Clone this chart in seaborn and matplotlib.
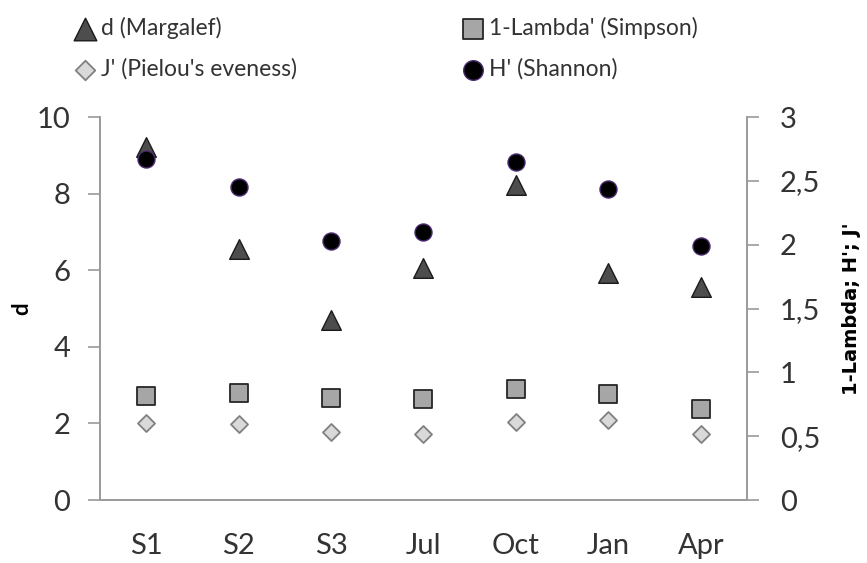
import matplotlib
matplotlib.use("Agg")
import matplotlib.pyplot as plt
import numpy as np
import pandas as pd
import seaborn as sns

months = ["S1", "S2", "S3", "Jul", "Oct", "Jan", "Apr"]
d_margalef = [9.23, 6.55, 4.70, 6.05, 8.23, 5.92, 5.57]
simpson = [0.815, 0.84, 0.80, 0.79, 0.87, 0.83, 0.716]
pielou = [0.606, 0.596, 0.533, 0.52, 0.61, 0.63, 0.52]
shannon = [2.67, 2.45, 2.03, 2.10, 2.65, 2.44, 1.99]

left_ticks = [0, 2, 4, 6, 8, 10]
right_ticks = [0, 0.5, 1, 1.5, 2, 2.5, 3]
right_tick_labels = ["0", "0,5", "1", "1,5", "2", "2,5", "3"]

tick_size = 21
legend_size = 16.5
spine_color = "#9a9a9a"
text_color = "#333333"


def main():
    sns.set_style("white")
    plt.rcParams["font.family"] = ["Lato", "DejaVu Sans"]

    df = pd.DataFrame({"month": months, "d": d_margalef, "simpson": simpson,
                       "pielou": pielou, "shannon": shannon})

    fig = plt.figure(figsize=(8.67, 5.63), dpi=100)
    ax = fig.add_axes([0.1153, 0.1119, 0.7463, 0.6801])
    ax2 = ax.twinx()

    sns.scatterplot(data=df, x="month", y="d", ax=ax, marker="^", s=200,
                    color="#4d4d4d", edgecolor="#1a1a1a", linewidth=1.0,
                    label="d (Margalef)", legend=False, zorder=3)
    sns.scatterplot(data=df, x="month", y="simpson", ax=ax2, marker="s", s=170,
                    color="#a6a6a6", edgecolor="#262626", linewidth=1.3,
                    label="1-Lambda' (Simpson)", legend=False)
    sns.scatterplot(data=df, x="month", y="pielou", ax=ax2, marker="D", s=75,
                    color="#d9d9d9", edgecolor="#808080", linewidth=1.3,
                    label="J' (Pielou's eveness)", legend=False)
    sns.scatterplot(data=df, x="month", y="shannon", ax=ax2, marker="o", s=150,
                    color="#000000", edgecolor="#4a2a70", linewidth=1.0,
                    label="H' (Shannon)", legend=False)

    ax.set_xlim(-0.5, len(months) - 0.5)
    ax.set_ylim(0, 10)
    ax2.set_ylim(0, 3)

    ax.set_xticks(range(len(months)))
    ax.set_xticklabels(months)
    ax.set_xticks(np.arange(-0.5, len(months)), minor=True)
    ax.tick_params(axis="x", which="major", length=0, pad=24,
                   labelsize=tick_size, labelcolor=text_color)
    ax.tick_params(axis="x", which="minor", length=8.5, width=1.2,
                   color=spine_color, direction="out")

    ax.set_yticks(left_ticks)
    ax.tick_params(axis="y", length=8.5, width=1.2, color=spine_color,
                   direction="out", labelsize=tick_size, labelcolor=text_color, pad=13)
    ax2.set_yticks(right_ticks)
    ax2.set_yticklabels(right_tick_labels)
    ax2.tick_params(axis="y", length=8.5, width=1.2, color=spine_color,
                    direction="out", labelsize=tick_size, labelcolor=text_color, pad=15)

    for a in (ax, ax2):
        a.spines["top"].set_visible(False)
        for side in ("left", "right", "bottom"):
            a.spines[side].set_color(spine_color)
            a.spines[side].set_linewidth(1.2)
        a.grid(False)

    ax.set_xlabel("")
    ax.set_ylabel("d", fontsize=16, fontweight="bold", color="black")
    ax.yaxis.set_label_coords(-0.105, 0.5)
    ax2.set_ylabel("1-Lambda; H'; J'", fontsize=14, fontweight="bold",
                   color="black", family="DejaVu Sans", labelpad=16)

    h1, l1 = ax.get_legend_handles_labels()
    h2, l2 = ax2.get_legend_handles_labels()
    handles = [h1[0], h2[1], h2[0], h2[2]]
    labels = [l1[0], l2[1], l2[0], l2[2]]
    fig.legend(handles, labels, ncol=2, loc="upper left", bbox_to_anchor=(0.0865, 0.97),
               frameon=False, fontsize=legend_size, handletextpad=0.25,
               columnspacing=7.2, labelspacing=0.85, handlelength=0.9,
               borderpad=0, borderaxespad=0, labelcolor=text_color, markerscale=1.15)

    fig.savefig("out.png", dpi=100)


if __name__ == "__main__":
    main()
